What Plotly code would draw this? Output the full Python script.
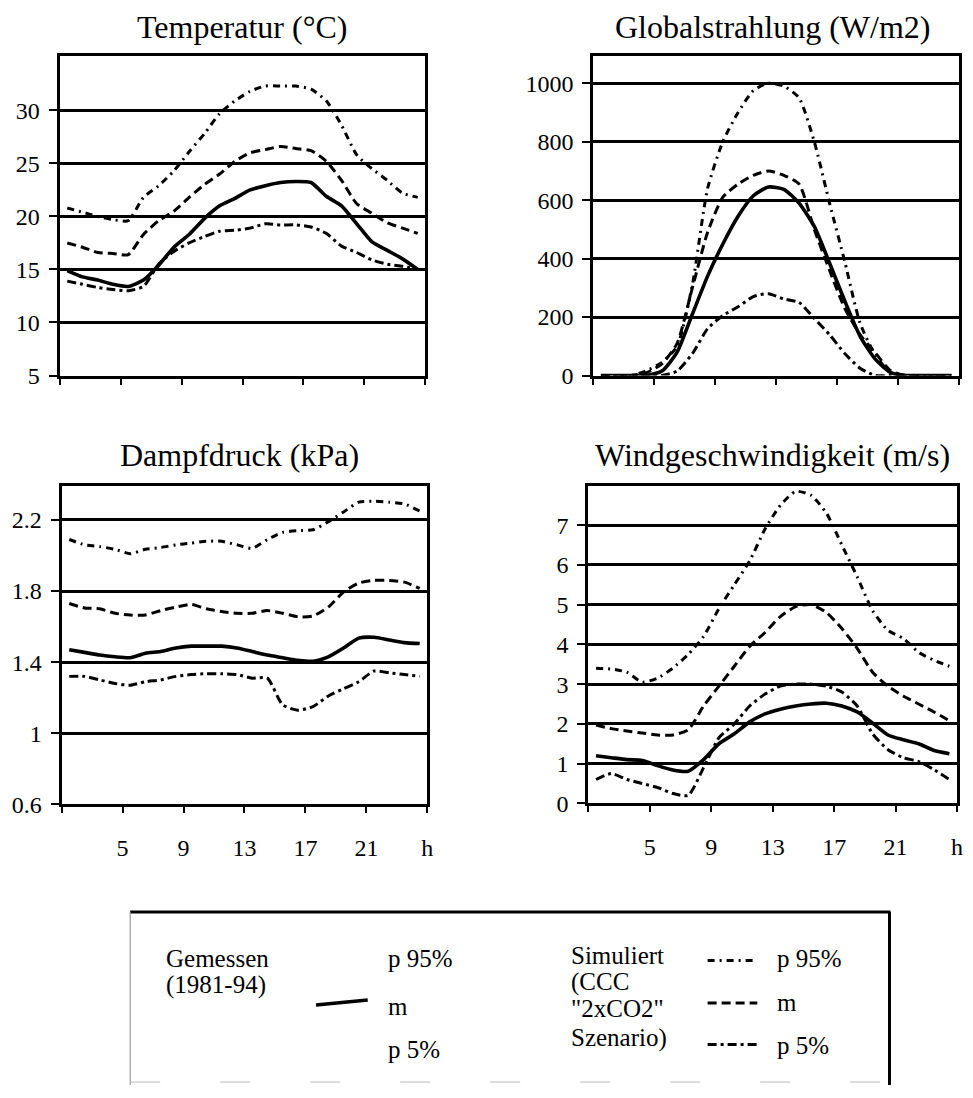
import plotly.graph_objects as go

# ---------------- data ----------------
hours = list(range(1, 25))

temp_meas_m = [14.9, 14.3, 14.0, 13.6, 13.4, 14.0, 15.4, 17.1, 18.3, 19.8, 21.0, 21.7,
               22.5, 22.9, 23.2, 23.3, 23.2, 21.9, 21.0, 19.3, 17.6, 16.8, 16.0, 15.0]
temp_sim_p95 = [20.8, 20.4, 20.0, 19.7, 19.6, 21.8, 22.9, 24.3, 26.1, 27.8, 29.7, 30.9,
                31.8, 32.3, 32.3, 32.3, 32.0, 30.9, 28.6, 25.8, 24.5, 23.4, 22.2, 21.8]
temp_sim_m = [17.5, 17.1, 16.6, 16.5, 16.4, 18.3, 19.6, 20.5, 21.8, 23.0, 24.0, 25.2,
              26.0, 26.3, 26.6, 26.4, 26.2, 25.2, 23.4, 21.2, 20.3, 19.4, 18.9, 18.4]
temp_sim_p5 = [13.9, 13.6, 13.3, 13.1, 13.0, 13.4, 15.5, 16.7, 17.5, 18.1, 18.6, 18.7,
               18.9, 19.3, 19.2, 19.2, 19.0, 18.4, 17.2, 16.6, 15.9, 15.5, 15.3, 15.0]

glob_meas_m = [0, 0, 0, 0, 15, 80, 210, 340, 450, 545, 615, 645,
               637, 590, 510, 385, 255, 135, 56, 11, 0, 0, 0, 0]
glob_sim_p95 = [0, 0, 0, 17, 45, 100, 310, 640, 800, 900, 975, 1000,
                990, 950, 800, 590, 390, 180, 70, 10, 0, 0, 0, 0]
glob_sim_m = [0, 0, 0, 10, 40, 110, 300, 490, 610, 655, 685, 700,
              685, 655, 500, 360, 230, 140, 78, 17, 0, 0, 0, 0]
glob_sim_p5 = [0, 0, 0, 0, 0, 15, 75, 160, 205, 235, 270, 280,
               262, 250, 195, 140, 75, 25, 0, 0, 0, 0, 0, 0]

vap_meas_m = [1.47, 1.455, 1.44, 1.43, 1.425, 1.45, 1.46, 1.48, 1.49, 1.49, 1.49, 1.48,
              1.46, 1.44, 1.425, 1.41, 1.405, 1.43, 1.48, 1.535, 1.54, 1.525, 1.51, 1.505]
vap_sim_p95 = [2.09, 2.06, 2.05, 2.035, 2.01, 2.035, 2.045, 2.06, 2.07, 2.08, 2.08, 2.06,
               2.04, 2.09, 2.13, 2.14, 2.145, 2.19, 2.245, 2.30, 2.305, 2.30, 2.29, 2.25]
vap_sim_m = [1.73, 1.705, 1.70, 1.675, 1.665, 1.665, 1.69, 1.71, 1.725, 1.70, 1.685, 1.675,
             1.675, 1.69, 1.675, 1.655, 1.66, 1.71, 1.795, 1.845, 1.86, 1.86, 1.85, 1.815]
vap_sim_p5 = [1.32, 1.32, 1.30, 1.28, 1.27, 1.29, 1.30, 1.32, 1.33, 1.335, 1.335, 1.33,
              1.31, 1.31, 1.16, 1.13, 1.15, 1.21, 1.25, 1.29, 1.35, 1.34, 1.33, 1.32]

wind_meas_m = [1.2, 1.15, 1.1, 1.08, 0.95, 0.84, 0.81, 1.1, 1.5, 1.75, 2.05, 2.25,
               2.37, 2.45, 2.5, 2.52, 2.45, 2.3, 2.02, 1.72, 1.6, 1.5, 1.33, 1.25]
wind_sim_p95 = [3.4, 3.38, 3.3, 3.05, 3.15, 3.4, 3.75, 4.2, 4.9, 5.5, 6.1, 6.9,
                7.5, 7.85, 7.75, 7.3, 6.5, 5.7, 4.85, 4.35, 4.15, 3.8, 3.6, 3.45]
wind_sim_m = [1.97, 1.88, 1.82, 1.77, 1.72, 1.72, 1.85, 2.45, 2.95, 3.45, 3.95, 4.3,
              4.7, 4.95, 5.0, 4.8, 4.4, 3.9, 3.3, 2.95, 2.7, 2.5, 2.3, 2.08]
wind_sim_p5 = [0.6, 0.75, 0.6, 0.5, 0.4, 0.25, 0.2, 0.9, 1.65, 2.0, 2.45, 2.75,
               2.95, 3.0, 3.0, 2.95, 2.8, 2.45, 1.75, 1.35, 1.15, 1.05, 0.85, 0.6]

panel_titles = ["Temperatur (°C)", "Globalstrahlung (W/m2)",
                "Dampfdruck (kPa)", "Windgeschwindigkeit (m/s)"]
x_tick_text = ["", "5", "9", "13", "17", "21", "h"]

legend_meas = ["Gemessen", "(1981-94)"]
legend_sim = ["Simuliert", "(CCC", "\"2xCO2\"", "Szenario)"]
legend_stats = ["p 95%", "m", "p 5%"]

# ---------------- styling ----------------
W, H = 973, 1098
FONT = "Liberation Serif"
DASH_P95 = "7px,5px,2px,5px"
DASH_M = "9px,5px"
DASH_P5 = "9px,4px,3px,4px"
SIM_W = 3.0


def px(x):
    return x / W


def py(y):
    return 1 - y / H


panels = [
    dict(meas=temp_meas_m, p95=temp_sim_p95, m=temp_sim_m, p5=temp_sim_p5,
         xdom=(60, 428), ydom=(57, 380), yrange=[5, 35.1],
         ytv=[5, 10, 15, 20, 25, 30], ytt=["5", "10", "15", "20", "25", "30"], xlab=False),
    dict(meas=glob_meas_m, p95=glob_sim_p95, m=glob_sim_m, p5=glob_sim_p5,
         xdom=(597, 965), ydom=(57, 380), yrange=[0, 1092],
         ytv=[0, 200, 400, 600, 800, 1000], ytt=["0", "200", "400", "600", "800", "1000"], xlab=False),
    dict(meas=vap_meas_m, p95=vap_sim_p95, m=vap_sim_m, p5=vap_sim_p5,
         xdom=(62, 430), ydom=(492, 814), yrange=[0.6, 2.39],
         ytv=[0.6, 1.0, 1.4, 1.8, 2.2], ytt=["0.6", "1", "1.4", "1.8", "2.2"], xlab=True),
    dict(meas=wind_meas_m, p95=wind_sim_p95, m=wind_sim_m, p5=wind_sim_p5,
         xdom=(592, 963), ydom=(492, 813), yrange=[0, 7.98],
         ytv=[0, 1, 2, 3, 4, 5, 6, 7], ytt=[str(v) for v in range(8)], xlab=True),
]

fig = go.Figure()
layout = dict(width=W, height=H, margin=dict(l=0, r=0, t=0, b=0),
              paper_bgcolor="white", plot_bgcolor="white", showlegend=False,
              font=dict(family=FONT, color="black"))

for i, p in enumerate(panels, start=1):
    xa = "x" if i == 1 else f"x{i}"
    ya = "y" if i == 1 else f"y{i}"
    for key, dash in (("p95", DASH_P95), ("m", DASH_M), ("p5", DASH_P5)):
        fig.add_trace(go.Scatter(x=hours, y=p[key], mode="lines", xaxis=xa, yaxis=ya,
                                 line=dict(color="black", width=SIM_W, dash=dash, shape="spline",
                                           smoothing=0.6)))
    fig.add_trace(go.Scatter(x=hours, y=p["meas"], mode="lines", xaxis=xa, yaxis=ya,
                             line=dict(color="black", width=3.6, shape="spline", smoothing=0.6)))

    xkey = "xaxis" if i == 1 else f"xaxis{i}"
    ykey = "yaxis" if i == 1 else f"yaxis{i}"
    layout[xkey] = dict(
        domain=[px(p["xdom"][0]), px(p["xdom"][1])], anchor=ya, range=[0.5, 24.5],
        tickmode="array", tickvals=[0.5, 4.5, 8.5, 12.5, 16.5, 20.5, 24.5],
        ticktext=x_tick_text, showticklabels=p["xlab"],
        ticks="outside", ticklen=6, tickwidth=2, tickcolor="black",
        showline=True, linewidth=3, linecolor="black", mirror=True,
        showgrid=False, zeroline=False, ticklabelstandoff=14,
        tickfont=dict(family=FONT, size=24, color="black"))
    layout[ykey] = dict(
        domain=[py(p["ydom"][1]), py(p["ydom"][0])], anchor=xa, range=p["yrange"],
        tickmode="array", tickvals=p["ytv"], ticktext=p["ytt"],
        ticks="outside", ticklen=8, tickwidth=2, tickcolor="black",
        showline=True, linewidth=3, linecolor="black", mirror=True,
        showgrid=True, gridcolor="black", gridwidth=2.5, zeroline=False,
        ticklabelstandoff=4,
        tickfont=dict(family=FONT, size=24, color="black"))

fig.update_layout(**layout)

# panel titles
title_pos = [(243, 27), (777, 27), (241, 460), (777, 460)]
for t, (tx, ty) in zip(panel_titles, title_pos):
    fig.add_annotation(text=t, x=px(tx), y=py(ty), xref="paper", yref="paper",
                       xanchor="center", yanchor="middle", showarrow=False,
                       font=dict(family=FONT, size=32, color="black"))

# legend box
shapes = [
    dict(type="line", xref="paper", yref="paper", x0=px(131), x1=px(896), y0=py(923), y1=py(923),
         line=dict(color="black", width=3)),
    dict(type="line", xref="paper", yref="paper", x0=px(895), x1=px(895), y0=py(923), y1=py(1098),
         line=dict(color="black", width=3)),
    dict(type="line", xref="paper", yref="paper", x0=px(131), x1=px(131), y0=py(923), y1=py(1098),
         line=dict(color="#888888", width=1)),
    dict(type="line", xref="paper", yref="paper", x0=px(131), x1=px(895), y0=py(1095), y1=py(1095),
         line=dict(color="#bbbbbb", width=1, dash="30px,60px")),
    # measured mean symbol
    dict(type="line", xref="paper", yref="paper", x0=px(318), x1=px(370), y0=py(1017), y1=py(1012),
         line=dict(color="black", width=3.6)),
]
for yy, dash in ((972, DASH_P95), (1015, DASH_M), (1057, DASH_P5)):
    shapes.append(dict(type="line", xref="paper", yref="paper", x0=px(712), x1=px(762),
                       y0=py(yy), y1=py(yy), line=dict(color="black", width=SIM_W, dash=dash)))
fig.update_layout(shapes=shapes)

LF = 25
for txt, yy in zip(legend_meas, (970, 997)):
    fig.add_annotation(text=txt, x=px(165), y=py(yy), xref="paper", yref="paper",
                       xanchor="left", yanchor="middle", showarrow=False,
                       font=dict(family=FONT, size=LF, color="black"))
for txt, yy in zip(legend_stats, (970, 1019, 1062)):
    fig.add_annotation(text=txt, x=px(388), y=py(yy), xref="paper", yref="paper",
                       xanchor="left", yanchor="middle", showarrow=False,
                       font=dict(family=FONT, size=LF, color="black"))
for txt, yy in zip(legend_sim, (967, 994, 1021, 1050)):
    fig.add_annotation(text=txt, x=px(573), y=py(yy), xref="paper", yref="paper",
                       xanchor="left", yanchor="middle", showarrow=False,
                       font=dict(family=FONT, size=LF, color="black"))
for txt, yy in zip(legend_stats, (970, 1015, 1058)):
    fig.add_annotation(text=txt, x=px(780), y=py(yy), xref="paper", yref="paper",
                       xanchor="left", yanchor="middle", showarrow=False,
                       font=dict(family=FONT, size=LF, color="black"))

fig.write_html("out.html")
